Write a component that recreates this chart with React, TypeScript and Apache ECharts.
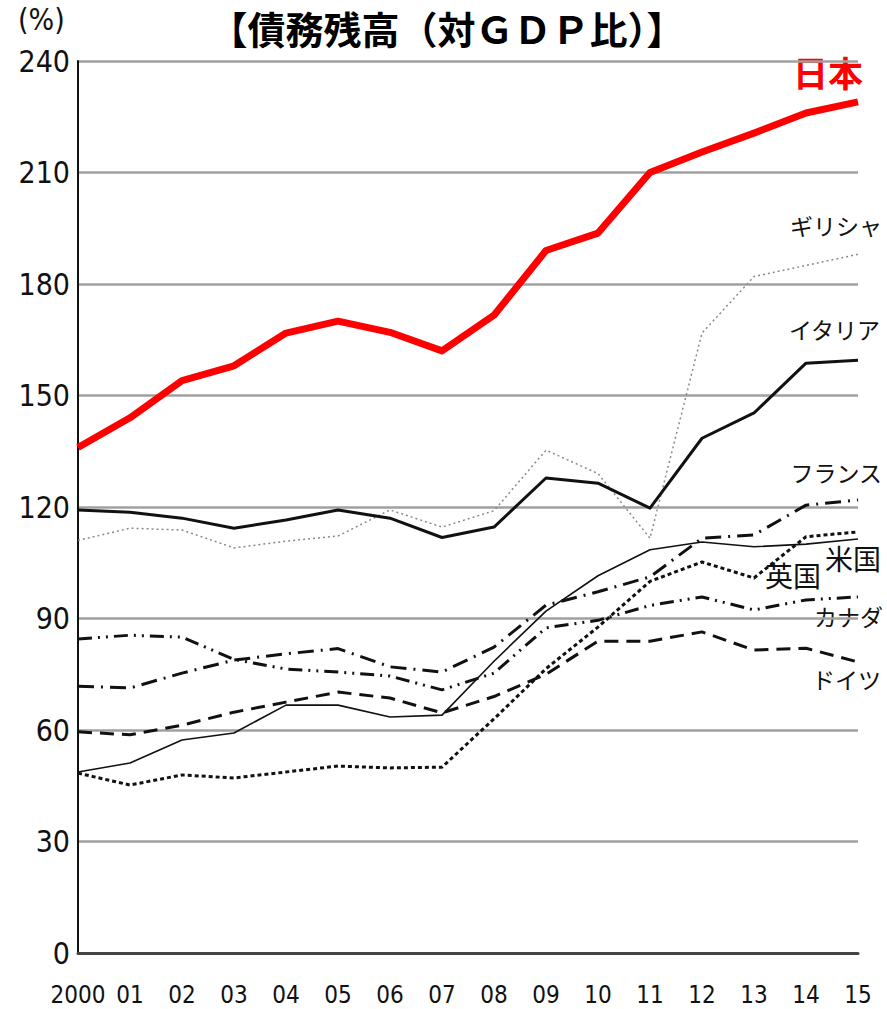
import React, { useEffect, useRef } from "react";
import * as echarts from "echarts";

const years = ["2000", "01", "02", "03", "04", "05", "06", "07", "08", "09", "10", "11", "12", "13", "14", "15"];
const yTicks = [0, 30, 60, 90, 120, 150, 180, 210, 240];

const japan = [136, 144, 154, 158, 166.8, 170, 167, 162, 171.6, 189, 193.7, 210, 215.5, 220.6, 226, 229];
const greece = [111, 114.3, 113.8, 109, 110.8, 112.2, 119.2, 114.6, 119, 135.3, 129, 111.6, 166.8, 182, 185, 188];
const italy = [119.2, 118.6, 117, 114.3, 116.5, 119.2, 117, 111.8, 114.6, 127.8, 126.4, 119.7, 138.5, 145.3, 158.7, 159.5];
const france = [71.8, 71.3, 75.3, 78.8, 80.5, 81.9, 77, 75.6, 82.3, 93.6, 97.2, 101.2, 111.6, 112.5, 120.5, 121.9];
const usa = [48.7, 51.1, 57.3, 59.2, 66.7, 66.7, 63.5, 64, 78.5, 92, 101.5, 108.5, 110.6, 109.3, 110, 111.4];
const uk = [48.4, 45.2, 47.9, 47.1, 48.7, 50.3, 49.8, 50, 63, 76.5, 87.7, 100, 105.2, 100.9, 112, 113.3];
const canada = [84.5, 85.5, 85, 79, 76.4, 75.6, 74.5, 70.8, 75.3, 87.5, 89.5, 93.5, 95.8, 92.3, 95, 95.8];
const germany = [59.5, 58.7, 61.3, 64.8, 67.5, 70.2, 68.6, 64.6, 69, 75, 83.9, 83.9, 86.4, 81.5, 82, 78.3];

const NARROW = "'Liberation Sans Narrow', 'DejaVu Sans Condensed', sans-serif";
const JP = "'Noto Sans CJK JP', sans-serif";

function line(name: string, data: number[], color: string, width: number, type: any, z = 2) {
  return {
    name,
    type: "line",
    data,
    symbol: "none",
    z,
    lineStyle: { color, width, type, cap: "butt", join: "round" },
  };
}

export default function App() {
  const ref = useRef<HTMLDivElement>(null);
  useEffect(() => {
    if (!ref.current) return;
    const chart = echarts.init(ref.current, null, { renderer: "svg" });
    const lbl = (text: string, x: number, y: number, size = 23, color = "#111", weight: any = "normal") => ({
      type: "text",
      x,
      y,
      style: { text, fill: color, font: `${weight} ${size}px ${JP}`, align: "right" },
    });
    chart.setOption({
      animation: false,
      backgroundColor: "#fff",
      grid: { left: 78, right: 29, top: 61, bottom: 56, containLabel: false },
      xAxis: {
        type: "category",
        data: years,
        boundaryGap: false,
        axisLine: { show: true, lineStyle: { color: "#444", width: 3 } },
        axisTick: { show: false },
        axisLabel: { fontFamily: NARROW, fontSize: 24, color: "#111", margin: 30, interval: 0 },
        splitLine: { show: false },
      },
      yAxis: {
        type: "value",
        min: 0,
        max: 240,
        interval: 30,
        axisLine: { show: true, lineStyle: { color: "#111", width: 2 } },
        axisTick: { show: false },
        axisLabel: {
          fontFamily: NARROW,
          fontSize: 30,
          color: "#111",
          margin: 8,
          formatter: (v: number) => (yTicks.includes(v) ? String(v) : ""),
        },
        splitLine: { show: true, lineStyle: { color: "#a0a0a0", width: 2.5 } },
      },
      series: [
        line("ギリシャ", greece, "#8a8a8a", 1.5, [2, 3]),
        line("米国", usa, "#111", 1.6, "solid"),
        line("英国", uk, "#111", 3, [4, 3]),
        line("ドイツ", germany, "#111", 3, [14, 8]),
        line("カナダ", canada, "#111", 3, [14, 6, 2, 6, 2, 6]),
        line("フランス", france, "#111", 3, [16, 7, 2, 7]),
        line("イタリア", italy, "#111", 3, "solid"),
        line("日本", japan, "#ff0000", 7, "solid", 5),
      ],
      graphic: [
        {
          type: "text",
          x: 447,
          y: 8,
          style: { text: "【債務残高（対ＧＤＰ比）】", fill: "#000", font: `bold 38px ${JP}`, align: "center" },
        },
        { type: "text", x: 18, y: 4, style: { text: "(%)", fill: "#111", font: `30px ${NARROW}` } },
        lbl("日本", 863, 54, 35, "#ff0000", "bold"),
        lbl("ギリシャ", 882, 213),
        lbl("イタリア", 880, 317),
        lbl("フランス", 882, 460),
        lbl("米国", 881, 544, 28),
        lbl("英国", 821, 561, 28),
        lbl("カナダ", 883, 604),
        lbl("ドイツ", 881, 667),
      ],
    });
    return () => chart.dispose();
  }, []);
  return <div ref={ref} style={{ position: "absolute", left: 0, top: 0, width: 887, height: 1009 }} />;
}
